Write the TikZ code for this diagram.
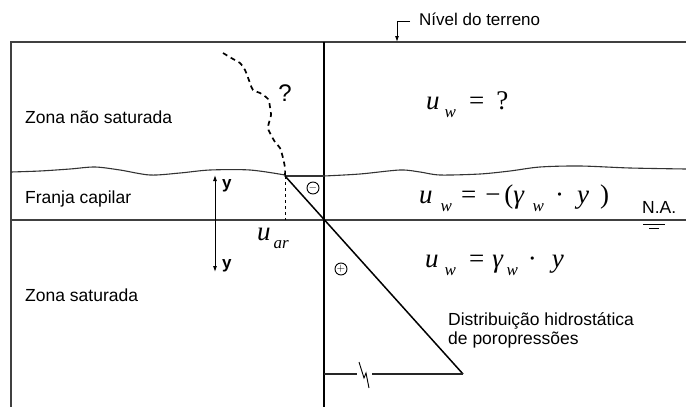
\documentclass[tikz,border=0pt]{standalone}
\usepackage{fontspec}
\setmainfont{Liberation Sans}
\newfontfamily\tms{Liberation Serif}
\usetikzlibrary{arrows.meta}
\newcommand\subw{\raisebox{-8pt}{\fontsize{17}{17}\selectfont\textit{w}}}
\begin{document}
\begin{tikzpicture}[x=1pt,y=-1pt,
  lbl/.style={font=\fontsize{17.5}{20}\selectfont, anchor=base west, inner sep=0pt},
  ylbl/.style={font=\bfseries\fontsize{17}{17}\selectfont, anchor=base west, inner sep=0pt},
  eq/.style={font=\tms\fontsize{27}{27}\selectfont, anchor=base west, inner sep=0pt},
  frame/.style={line width=1.3pt, draw=black!75},
  mainline/.style={line width=2.3pt},
  wave/.style={line width=1.1pt, draw=black!80},
  crack/.style={line width=1.7pt, dash pattern=on 5pt off 4pt},
  sign/.style={circle, draw, inner sep=0pt, minimum size=12pt, line width=0.9pt, font=\fontsize{11}{11}\selectfont},
  tipstyle/.style={-{Latex[length=6pt,width=4pt]}}
]
\useasboundingbox (0,0) rectangle (686,407);
% frame coordinates
\coordinate (tl) at (11,42);
\coordinate (tr) at (686,42);
\coordinate (bl) at (11,407);
\coordinate (vt) at (324,42);
\coordinate (vb) at (324,407);
\coordinate (nal) at (11,220);
\coordinate (nar) at (686,220);
\coordinate (cap) at (285,176);
\coordinate (capv) at (324,176);
\coordinate (capb) at (285,220);
\coordinate (tip) at (463,374);
\coordinate (base0) at (324,374);
\coordinate (brk1) at (357,374);
\coordinate (brk2) at (372,374);
\coordinate (ytop) at (215,175);
\coordinate (ybot) at (215,272);
\coordinate (gnd) at (397,42);
\coordinate (gndk) at (397,21);
\coordinate (gndh) at (410,21);

% frame
\draw[frame] (bl) -- (tl) -- (tr);
\draw[frame] (nal) -- (nar);
\draw[mainline] (vt) -- (vb);

% wavy capillary fringe line
\draw[wave] plot[smooth] coordinates {(11,172) (40,171) (70,169) (95,167) (120,170) (150,175) (180,173) (210,170) (250,170) (285,175)};
\draw[wave] (cap) -- (capv);
\draw[wave] plot[smooth] coordinates {(324,176) (360,174) (400,170) (420,172) (440,175) (480,174) (510,171) (540,167) (580,166) (630,168) (686,169)};

% crack
\draw[crack] plot[smooth] coordinates {(223,53) (233,59) (240,63) (245,70) (250,83) (253,90) (260,93) (268,99) (270,107) (271,115) (268,127) (270,133) (275,142) (280,148) (283,158) (285,168) (285,176)};
\node[font=\fontsize{24}{24}\selectfont, inner sep=0pt] (q) at (285,93) {?};

% pressure distribution
\draw[line width=1.5pt] (cap) -- (tip);
\draw[dashed, line width=0.8pt] (cap) -- (capb);
\draw[line width=1.1pt, draw=black!85] (base0) -- (brk1);
\draw[line width=1.1pt, draw=black!85] (brk2) -- (tip);
\draw[line width=0.9pt] (359,362) -- (364,378) -- (366,373) -- (369,388);
\node[sign] (minus) at (313,188) {$-$};
\node[sign] (plus) at (341,269) {$+$};

% y arrows
\draw[{Latex[length=6pt,width=4pt]}-{Latex[length=6pt,width=4pt]}, line width=0.9pt] (ytop) -- (ybot);
\node[ylbl] (y1) at (222,188) {y};
\node[ylbl] (y2) at (222,268) {y};

% ground level label
\draw[tipstyle, line width=0.9pt] (gndh) -- (gndk) -- (gnd);
\node[lbl, font=\fontsize{17}{18}\selectfont] (terreno) at (419,25) {Nível do terreno};

% zone labels
\node[lbl] (zns) at (25,123) {Zona não saturada};
\node[lbl] (fc) at (25,203) {Franja capilar};
\node[lbl] (zs) at (25,301) {Zona saturada};
\node[lbl] (dist1) at (448,325) {Distribuição hidrostática};
\node[lbl] (dist2) at (448,344) {de poropressões};

% N.A.
\node[lbl] (na) at (642,213) {N.A.};
\draw[line width=0.9pt] (643,224) -- (665,224);
\draw[line width=0.9pt] (649,228) -- (659,228);

% u_ar
\node[eq] (uar) at (257,240) {\textit{u}\kern3pt\raisebox{-8pt}{\fontsize{17}{17}\selectfont\textit{ar}}};

% formulas
\node[eq] (f1) at (426,109) {\textit{u}\kern5pt\subw\kern13pt=\kern12pt?};
\node[eq] (f2) at (419,203) {\textit{u}\kern8pt\subw\kern9pt=\kern9pt−\kern4pt(\textit{γ}\kern8pt\subw\kern11pt·\kern13pt\textit{y}\kern11pt)};
\node[eq] (f3) at (425,267) {\textit{u}\kern6pt\subw\kern13pt=\kern8pt\textit{γ}\kern3pt\subw\kern10pt·\kern15pt\textit{y}};
\end{tikzpicture}
\end{document}
